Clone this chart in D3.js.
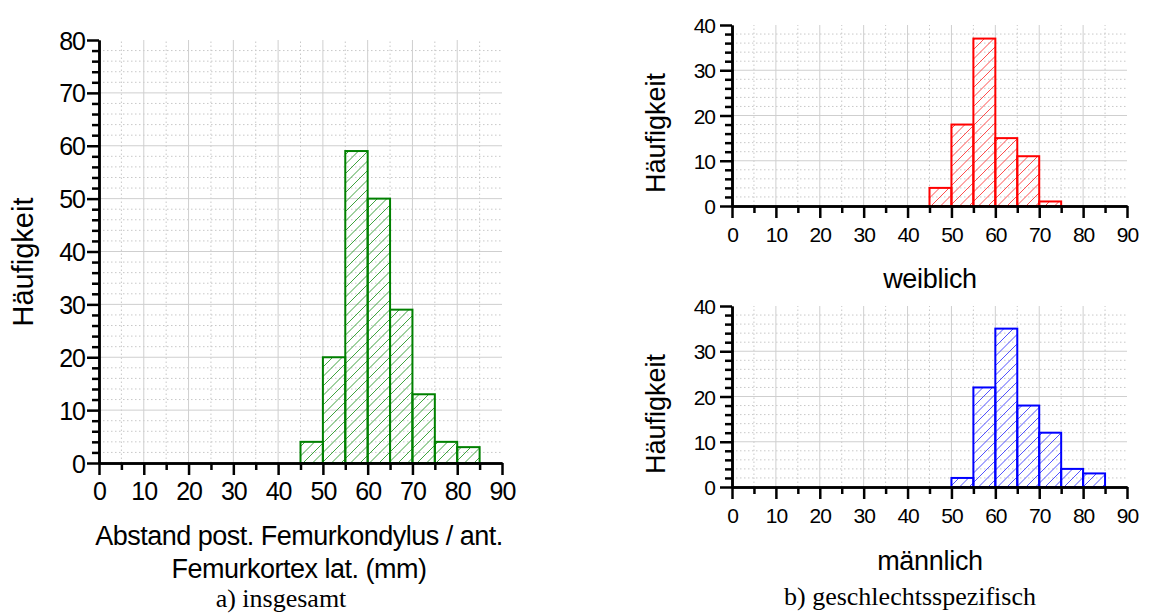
<!DOCTYPE html>
<html lang="de">
<head>
<meta charset="UTF-8">
<title>Häufigkeit Abstand post. Femurkondylus</title>
<script src="https://d3js.org/d3.v7.min.js"></script>
<style>
    body { margin: 0; background: #fff; }
    .sans { font-family: "Liberation Sans", Arial, sans-serif; fill: #000; }
    .serif { font-family: "Liberation Serif", "Times New Roman", serif; fill: #000; }
    .grid-major line { stroke: #cfcfcf; stroke-width: 1; }
    .grid-minor line { stroke: #c8c8c8; stroke-width: 1; stroke-dasharray: 1.5 2.5; }
    .axis path, .axis line { stroke: #000; stroke-width: 2.5; }
</style>
</head>
<body>
<div id="chart"></div>
<script>
    // data (bin start in mm, bin width 5)
    var binWidth = 5;
    var xTicks = [0, 10, 20, 30, 40, 50, 60, 70, 80, 90];

    var totalBins = [45, 50, 55, 60, 65, 70, 75, 80];
    var totalCounts = [4, 20, 59, 50, 29, 13, 4, 3];
    var totalYTicks = [0, 10, 20, 30, 40, 50, 60, 70, 80];

    var femaleBins = [45, 50, 55, 60, 65, 70];
    var femaleCounts = [4, 18, 37, 15, 11, 1];

    var maleBins = [50, 55, 60, 65, 70, 75, 80];
    var maleCounts = [2, 22, 35, 18, 12, 4, 3];
    var sexYTicks = [0, 10, 20, 30, 40];

    var svg = d3.select("#chart")
        .append("svg")
        .attr("width", 1152)
        .attr("height", 614);

    var defs = svg.append("defs");
    var hatchGap = 9.5;

    function drawPanel(cfg) {
        var bins = cfg.bins.map((b, i) => ({ x0: b, count: cfg.counts[i] }));

        var x = d3.scaleLinear().domain([0, 90]).range([cfg.left, cfg.right]);
        var y = d3.scaleLinear().domain([0, cfg.yMax]).range([cfg.bottom, cfg.top]);

        var g = svg.append("g");

        // minor grid (dotted)
        var minorX = d3.range(5, 90, 10);
        var minorY = d3.range(2, cfg.yMax, 2).filter(v => v % 10 !== 0);
        g.append("g").attr("class", "grid-minor")
            .selectAll("line").data(minorX).join("line")
            .attr("x1", d => x(d)).attr("x2", d => x(d))
            .attr("y1", y(0)).attr("y2", y(cfg.yMax));
        g.append("g").attr("class", "grid-minor")
            .selectAll("line").data(minorY).join("line")
            .attr("x1", x(0)).attr("x2", x(90))
            .attr("y1", d => y(d)).attr("y2", d => y(d));

        // major grid (solid)
        g.append("g").attr("class", "grid-major")
            .selectAll("line").data(xTicks.filter(d => d > 0 && d < 90)).join("line")
            .attr("x1", d => x(d)).attr("x2", d => x(d))
            .attr("y1", y(0)).attr("y2", y(cfg.yMax));
        g.append("g").attr("class", "grid-major")
            .selectAll("line").data(cfg.yTicks.filter(d => d > 0 && d < cfg.yMax)).join("line")
            .attr("x1", x(0)).attr("x2", x(90))
            .attr("y1", d => y(d)).attr("y2", d => y(d));

        // hatching: diagonal lines clipped to the bars
        var clip = defs.append("clipPath").attr("id", cfg.id + "-clip");
        clip.selectAll("rect").data(bins).join("rect")
            .attr("x", d => x(d.x0))
            .attr("y", d => y(d.count))
            .attr("width", d => x(d.x0 + binWidth) - x(d.x0))
            .attr("height", d => y(0) - y(d.count));

        var h = y(0) - y(cfg.yMax);
        var offsets = d3.range(x(0), x(90) + h, hatchGap);
        g.append("g")
            .attr("clip-path", "url(#" + cfg.id + "-clip)")
            .selectAll("line").data(offsets).join("line")
            .attr("x1", d => d - h).attr("y1", y(0))
            .attr("x2", d => d).attr("y2", y(cfg.yMax))
            .attr("stroke", cfg.hatchColor)
            .attr("stroke-width", 0.9);

        // bars
        g.selectAll("rect.bar").data(bins).join("rect")
            .attr("class", "bar")
            .attr("x", d => x(d.x0))
            .attr("y", d => y(d.count))
            .attr("width", d => x(d.x0 + binWidth) - x(d.x0))
            .attr("height", d => y(0) - y(d.count))
            .attr("fill", "none")
            .attr("stroke", cfg.color)
            .attr("stroke-width", 2);

        // axes: minor ticks first, then major with labels
        g.append("g").attr("class", "axis")
            .attr("transform", "translate(0," + y(0) + ")")
            .call(d3.axisBottom(x).tickValues(minorX).tickSize(7).tickFormat("").tickSizeOuter(0));
        g.append("g").attr("class", "axis")
            .attr("transform", "translate(" + x(0) + ",0)")
            .call(d3.axisLeft(y).tickValues(minorY).tickSize(7).tickFormat("").tickSizeOuter(0));

        var xa = g.append("g").attr("class", "axis sans")
            .attr("transform", "translate(0," + y(0) + ")")
            .call(d3.axisBottom(x).tickValues(xTicks).tickSize(12).tickSizeOuter(0).tickPadding(cfg.xPad));
        var ya = g.append("g").attr("class", "axis sans")
            .attr("transform", "translate(" + x(0) + ",0)")
            .call(d3.axisLeft(y).tickValues(cfg.yTicks).tickSize(12).tickSizeOuter(0).tickPadding(cfg.yPad));

        [xa, ya].forEach(a => a.selectAll("text")
            .attr("fill", "#000")
            .style("font-family", '"Liberation Sans", Arial, sans-serif')
            .style("font-size", cfg.tickFont + "px")
            .style("letter-spacing", "-1px"));
        ya.selectAll("text").attr("dy", "0.36em");

        // y label
        g.append("text")
            .attr("class", "sans")
            .attr("transform", "translate(" + cfg.yLabelX + "," + cfg.yLabelY + ") rotate(-90)")
            .attr("text-anchor", "middle")
            .style("font-size", cfg.labelFont + "px")
            .text("Häufigkeit");

        // x label lines
        g.append("g").selectAll("text").data(cfg.xLabel).join("text")
            .attr("class", "sans")
            .attr("x", cfg.xLabelX)
            .attr("y", (d, i) => cfg.xLabelY + i * 33)
            .attr("text-anchor", "middle")
            .style("font-size", cfg.xLabelFont + "px")
            .style("letter-spacing", cfg.xLabelSpacing)
            .text(d => d);
    }

    drawPanel({
        id: "total",
        bins: totalBins, counts: totalCounts, yMax: 80, yTicks: totalYTicks,
        left: 99, right: 502, top: 40, bottom: 463,
        color: "#008000", hatchColor: "#2a9a2a",
        tickFont: 25, xPad: 7, yPad: 2, labelFont: 29, xLabelFont: 27, xLabelSpacing: "-0.5px",
        yLabelX: 33, yLabelY: 262,
        xLabel: ["Abstand post. Femurkondylus / ant.", "Femurkortex lat. (mm)"],
        xLabelX: 299, xLabelY: 545
    });

    drawPanel({
        id: "female",
        bins: femaleBins, counts: femaleCounts, yMax: 40, yTicks: sexYTicks,
        left: 732, right: 1127, top: 25, bottom: 206,
        color: "#ff0000", hatchColor: "#ff3a3a",
        tickFont: 21, xPad: 9, yPad: 5, labelFont: 27, xLabelFont: 27, xLabelSpacing: "-0.3px",
        yLabelX: 665, yLabelY: 133,
        xLabel: ["weiblich"], xLabelX: 930, xLabelY: 288
    });

    drawPanel({
        id: "male",
        bins: maleBins, counts: maleCounts, yMax: 40, yTicks: sexYTicks,
        left: 732, right: 1127, top: 306, bottom: 487,
        color: "#0000ff", hatchColor: "#4040ff",
        tickFont: 21, xPad: 9, yPad: 5, labelFont: 27, xLabelFont: 27, xLabelSpacing: "-0.3px",
        yLabelX: 665, yLabelY: 414,
        xLabel: ["männlich"], xLabelX: 930, xLabelY: 570
    });

    // captions
    svg.append("text").attr("class", "serif")
        .attr("x", 281).attr("y", 607)
        .attr("text-anchor", "middle")
        .style("font-size", "26px")
        .text("a) insgesamt");
    svg.append("text").attr("class", "serif")
        .attr("x", 910).attr("y", 605)
        .attr("text-anchor", "middle")
        .style("font-size", "26px")
        .text("b) geschlechtsspezifisch");
</script>
</body>
</html>
